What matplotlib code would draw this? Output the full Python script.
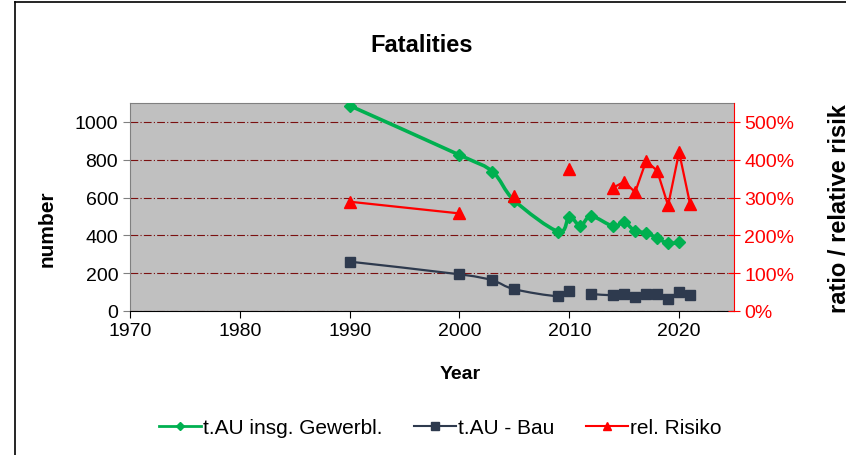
import numpy as np
import matplotlib
matplotlib.use("Agg")
import matplotlib.pyplot as plt
from matplotlib.path import Path
from matplotlib.patches import PathPatch
from matplotlib.lines import Line2D
from matplotlib.ticker import FuncFormatter

plt.rcParams['font.family'] = ['Liberation Sans', 'DejaVu Sans']

# data
years_total = [1990, 2000, 2003, 2005, 2009, 2010, 2011, 2012, 2014, 2015, 2016, 2017, 2018, 2019, 2020]
total = [1086, 825, 737, 584, 420, 499, 451, 501, 448, 469, 422, 413, 386, 358, 363]

years_bau = [1990, 2000, 2003, 2005, 2009, 2010, 2011, 2012, 2014, 2015, 2016, 2017, 2018, 2019, 2020, 2021]
bau = [261, 194, 162, 115, 78, 106, np.nan, 90, 83, 90, 72, 90, 90, 63, 102, 85]

years_risk = [1990, 2000, 2003, 2005, 2009, 2010, 2012, 2014, 2015, 2016, 2017, 2018, 2019, 2020, 2021]
risk = [289, 258, np.nan, 305, np.nan, 376, np.nan, 326, 342, 314, 397, 371, 279, 420, 283]

GREEN = '#00B050'
DARK = '#2E3A4E'
RED = '#FF0000'


def smooth_path(xs, ys):
    # Excel-style smoothed line: Catmull-Rom segments drawn as cubic Beziers
    runs, cur = [], []
    for x, y in zip(xs, ys):
        if np.isnan(y):
            if cur:
                runs.append(cur)
            cur = []
        else:
            cur.append(np.array([x, y], dtype=float))
    if cur:
        runs.append(cur)
    verts, codes = [], []
    for run in runs:
        if len(run) < 2:
            continue
        verts.append(run[0]); codes.append(Path.MOVETO)
        n = len(run)
        for i in range(n - 1):
            p0 = run[i - 1] if i > 0 else run[i]
            p1, p2 = run[i], run[i + 1]
            p3 = run[i + 2] if i + 2 < n else run[i + 1]
            c1 = p1 + (p2 - p0) / 6.0
            c2 = p2 - (p3 - p1) / 6.0
            verts += [c1, c2, p2]
            codes += [Path.CURVE4] * 3
    return Path(verts, codes)


fig = plt.figure(figsize=(8.46, 4.56), dpi=100)
ax = fig.add_axes([130 / 846, 1 - 312 / 456, 604 / 846, 208 / 456])
ax.set_facecolor('#C0C0C0')

ax.add_patch(PathPatch(smooth_path(years_total, total), fill=False, ec=GREEN, lw=2.6, zorder=3))
ax.plot(years_total, total, ls='none', marker='D', ms=6.5, color=GREEN, zorder=4)
ax.add_patch(PathPatch(smooth_path(years_bau, bau), fill=False, ec=DARK, lw=1.6, zorder=3))
ax.plot(years_bau, bau, ls='none', marker='s', ms=7.5, color=DARK, zorder=4)

ax.set_xlim(1970, 2025)
ax.set_ylim(0, 1100)
ax.set_xticks([1970, 1980, 1990, 2000, 2010, 2020])
ax.set_yticks([0, 200, 400, 600, 800, 1000])
ax.yaxis.grid(True, color='#7A1010', ls=(0, (7, 2, 1, 2)), lw=0.8)
ax.set_axisbelow(True)
ax.tick_params(axis='both', labelsize=14, direction='out', length=5, color='#808080')
ax.tick_params(axis='x', color='black', pad=3)
for s in ['top', 'left']:
    ax.spines[s].set_color('#808080')
ax.spines['bottom'].set_color('black')
ax.spines['right'].set_visible(False)

ax2 = ax.twinx()
ax2.plot(years_risk, risk, color=RED, lw=1.6, marker='^', ms=9, zorder=4)
ax2.set_ylim(0, 550)
ax2.set_yticks([0, 100, 200, 300, 400, 500])
ax2.yaxis.set_major_formatter(FuncFormatter(lambda v, p: f'{int(v)}%'))
ax2.tick_params(axis='y', labelsize=14, colors=RED, direction='inout', length=8)
ax2.spines['right'].set_color(RED)
for s in ['top', 'left', 'bottom']:
    ax2.spines[s].set_visible(False)

fig.text(422 / 846, 1 - 45 / 456, 'Fatalities', ha='center', va='center', fontsize=17, fontweight='bold')
fig.text(460 / 846, 1 - 375 / 456, 'Year', ha='center', va='center', fontsize=14, fontweight='bold')
fig.text(47 / 846, 1 - 229 / 456, 'number', rotation=90, ha='center', va='center', fontsize=15, fontweight='bold')
# the reference chart cuts this label at the right edge
fig.text(839 / 846, 1 - 313 / 456, 'ratio / relative risik', rotation=90, ha='center', va='bottom',
         fontsize=17, fontweight='bold')

handles = [
    Line2D([], [], color=GREEN, lw=2, marker='D', ms=4.5),
    Line2D([], [], color=DARK, lw=1.5, marker='s', ms=5.5),
    Line2D([], [], color=RED, lw=1.5, marker='^', ms=6),
]
fig.legend(handles, ['t.AU insg. Gewerbl.', 't.AU - Bau', 'rel. Risiko'], loc='center',
           bbox_to_anchor=(440 / 846, 1 - 429 / 456), ncol=3, frameon=False, fontsize=15,
           handlelength=2.05, handletextpad=0.08, columnspacing=1.5)

# outer chart border (left and top only visible)
fig.add_artist(Line2D([15 / 846, 15 / 846], [0, 1 - 3 / 456], color='black', lw=1.2, transform=fig.transFigure))
fig.add_artist(Line2D([15 / 846, 1], [1 - 3 / 456, 1 - 3 / 456], color='black', lw=1.2, transform=fig.transFigure))

fig.savefig('out.png', dpi=100)
